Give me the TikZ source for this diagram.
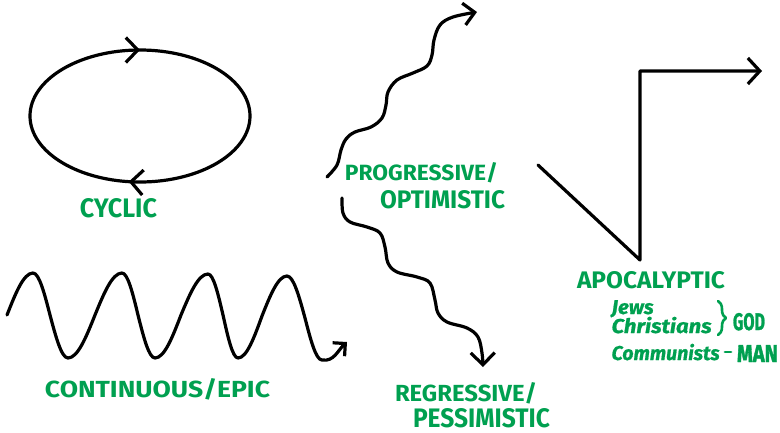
\documentclass[tikz,border=0pt]{standalone}
\usepackage{fontspec}
\usepackage{graphicx}
\usetikzlibrary{arrows.meta,decorations.markings,decorations.pathreplacing}
\newfontfamily\hand{Fira Sans}
\newfontfamily\handb[FakeBold=1.6]{Fira Sans}
\newfontfamily\handi[FakeBold=0.8]{Fira Sans}
\definecolor{lbl}{RGB}{0,160,80}
\newcommand{\fitlbl}[3]{\resizebox{#1pt}{#2pt}{#3}}
\newcommand{\fitw}[2]{\resizebox{#1pt}{\height}{#2}}
\begin{document}
\begin{tikzpicture}[x=1pt,y=-1pt, line width=3.2pt, line cap=round, line join=round,
  lab/.style={text=lbl, font=\hand\bfseries\fontsize{26}{26}\selectfont, inner sep=0pt},
  labb/.style={text=lbl, font=\handb\bfseries\fontsize{26}{26}\selectfont, inner sep=0pt},
  sub/.style={text=lbl, font=\handi\bfseries\itshape\fontsize{20}{20}\selectfont, inner sep=0pt, anchor=base west}]
\useasboundingbox (0,0) rectangle (780,432);
% cyclic
\draw[postaction={decorate}, decoration={markings,
   mark=at position 0.27 with {\arrow{Straight Barb[length=12pt,width=25pt]}},
   mark=at position 0.75 with {\arrow{Straight Barb[length=12pt,width=25pt]}}}]
   (140,116) ellipse [x radius=110, y radius=66];
% continuous
\draw[-{Straight Barb[length=9pt,width=18pt]}] (7,315) sin (33,273) cos (50,315) sin (68,358) cos (95,315) sin (122,273) cos (138,315) sin (155,358) cos (181,315) sin (208,274) cos (223,315) sin (238,358) cos (262,316) sin (287,276) cos (305,318) sin (322,360) .. controls (334,362) and (338,350) .. (347,342);
% progressive
\draw[-{Straight Barb[length=11pt,width=22pt]}] plot[smooth, tension=0.6] coordinates {(327,177) (337,165) (341,150) (346,139) (355,132) (371,127) (382,118) (386,105) (388,92) (397,80) (413,73) (427,66) (432,55) (434,40) (440,25) (453,17) (477,12)};
% regressive
\draw[-{Straight Barb[length=12pt,width=24pt]}] plot[smooth, tension=0.6] coordinates {(342,198) (343,213) (350,222) (367,227) (380,233) (385,247) (388,263) (397,272) (417,277) (430,283) (435,300) (438,313) (447,322) (467,328) (478,337) (482,353) (483,367)};
% apocalyptic
\draw[-{Straight Barb[length=12pt,width=26pt]}] (538,165) -- (640,260) -- (640,71) -- (762,71);
% labels (anchor base: baseline = bottom of capitals)
\node[lab, anchor=base] (cyclic) at (118.5,217) {\fitlbl{77}{19}{CYCLIC}};
\node[lab, anchor=base] (cont) at (157.5,397) {\fitlbl{225}{19}{CONTINUOUS/EPIC}};
\node[lab, anchor=base] (prog) at (421.5,180) {\fitlbl{153}{18}{PROGRESSIVE/}};
\node[lab, anchor=base] (opt) at (442.5,208) {\fitlbl{125}{18}{OPTIMISTIC}};
\node[lab, anchor=base] (reg) at (466,401) {\fitlbl{142}{19}{REGRESSIVE/}};
\node[lab, anchor=base] (pess) at (481.5,427) {\fitlbl{137}{19}{PESSIMISTIC}};
\node[lab, anchor=base] (apoc) at (651,288) {\fitlbl{148}{17}{APOCALYPTIC}};
\node[sub] (jews) at (610,314) {\fitw{42}{Jews}};
\node[sub] (chr) at (610,333) {\fitw{100}{Christians}};
\node[sub] (comm) at (610,360) {\fitw{108}{Communists}};
\draw[lbl, line width=2.6pt, decorate, decoration={brace, amplitude=8pt}] (718,301) -- (718,335);
\node[labb, anchor=base] (god) at (749,330) {\fitlbl{32}{17}{GOD}};
\coordinate (dashl) at (725,352);
\coordinate (dashr) at (731,352);
\draw[lbl, line width=2.8pt] (dashl) -- (dashr);
\node[labb, anchor=base] (man) at (757.5,362) {\fitlbl{41}{17}{MAN}};
\end{tikzpicture}
\end{document}
